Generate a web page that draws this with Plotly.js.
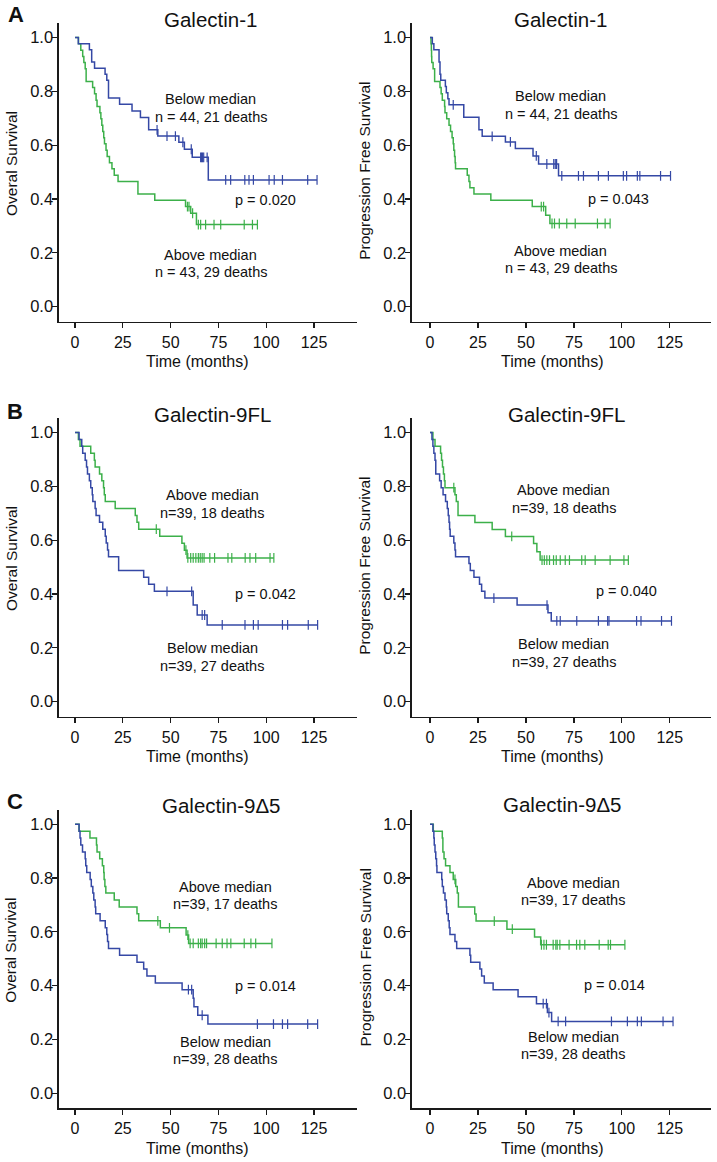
<!DOCTYPE html>
<html><head><meta charset="utf-8">
<script src="https://cdn.plot.ly/plotly-3.0.1.min.js"></script>
<style>html,body{margin:0;padding:0;background:#fff}#chart{width:717px;height:1162px}</style>
</head><body><div id="chart"></div>
<script>
// ---------- DATA (time in months, survival fraction) ----------
// Panel A: Galectin-1, Overall survival
const aOsBlueT = [1.7, 7.5, 8.7, 10.2, 15.7, 16.6, 17.5, 23.3, 29.8, 34.2, 38.5, 43.3, 54.3, 57.2, 61.3, 69.7];
const aOsBlueS = [0.977, 0.955, 0.909, 0.886, 0.864, 0.841, 0.775, 0.752, 0.727, 0.703, 0.657, 0.634, 0.611, 0.585, 0.555, 0.471];
const aOsBlueC = [42.9, 48.1, 52.5, 56.4, 60.8, 65.7, 66.2, 66.7, 67.3, 69.1, 78.8, 81.4, 88.8, 91.0, 93.3, 101.5, 104.2, 108.5, 121.7, 126.6];
const aOsGreenT = [1.8, 3.0, 4.0, 4.6, 5.3, 5.8, 9.2, 10.2, 11.0, 11.5, 13.0, 13.5, 14.0, 14.5, 15.0, 15.4, 16.2, 16.8, 18.0, 19.3, 20.5, 22.5, 32.9, 41.7, 57.8, 60.5, 63.5];
const aOsGreenS = [0.977, 0.953, 0.930, 0.907, 0.884, 0.837, 0.814, 0.791, 0.767, 0.744, 0.721, 0.698, 0.674, 0.651, 0.628, 0.605, 0.581, 0.558, 0.535, 0.512, 0.488, 0.465, 0.419, 0.395, 0.372, 0.347, 0.305];
const aOsGreenC = [58.8, 59.6, 61.5, 64.5, 65.7, 68.3, 72.7, 76.2, 88.5, 92.8, 95.4];
// Panel A: Galectin-1, Progression free survival
const aPfsBlueT = [1.2, 2.0, 4.7, 5.2, 5.6, 8.0, 8.5, 9.3, 9.9, 17.6, 25.5, 27.2, 39.3, 44.5, 53.7, 56.6, 67.0];
const aPfsBlueS = [0.977, 0.955, 0.909, 0.864, 0.841, 0.818, 0.795, 0.773, 0.750, 0.704, 0.657, 0.633, 0.612, 0.588, 0.560, 0.530, 0.486];
const aPfsBlueC = [12.1, 32.4, 41.9, 55.4, 60.9, 64.5, 65.3, 66.0, 68.7, 77.4, 80.0, 87.8, 93.0, 100.8, 102.5, 108.1, 109.4, 120.2, 125.4];
const aPfsGreenT = [0.5, 0.7, 0.8, 0.9, 1.6, 2.4, 5.2, 5.8, 6.4, 7.6, 7.8, 8.7, 9.9, 10.7, 11.5, 12.1, 12.4, 12.8, 13.1, 13.3, 19.4, 20.3, 20.8, 22.9, 31.7, 53.3, 60.3, 62.5];
const aPfsGreenS = [0.977, 0.953, 0.930, 0.907, 0.884, 0.837, 0.814, 0.791, 0.767, 0.744, 0.721, 0.698, 0.674, 0.651, 0.628, 0.605, 0.581, 0.558, 0.535, 0.512, 0.488, 0.465, 0.442, 0.419, 0.395, 0.372, 0.340, 0.309];
const aPfsGreenC = [58.0, 59.2, 63.6, 64.9, 67.4, 71.3, 75.7, 87.3, 91.3, 93.9];
// Panel B: Galectin-9FL, Overall survival
const bOsGreenT = [1.75, 2.6, 8.2, 10.1, 10.5, 12.8, 14.0, 14.9, 15.3, 15.8, 21.0, 31.5, 32.4, 33.3, 44.3, 55.9, 57.2, 58.6];
const bOsGreenS = [0.974, 0.949, 0.923, 0.897, 0.872, 0.846, 0.821, 0.795, 0.769, 0.744, 0.718, 0.692, 0.667, 0.641, 0.615, 0.589, 0.563, 0.534];
const bOsGreenC = [42.5, 58.0, 59.0, 60.5, 61.8, 63.2, 64.5, 65.5, 66.5, 67.5, 70.5, 73.0, 80.0, 82.0, 89.0, 91.5, 94.5, 102.0, 104.0];
const bOsBlueT = [2.1, 3.5, 4.0, 5.3, 6.0, 6.5, 7.5, 8.2, 9.0, 9.3, 10.5, 11.0, 12.8, 14.5, 15.8, 16.3, 17.0, 17.5, 22.8, 35.9, 38.5, 41.5, 61.8, 63.9, 69.1];
const bOsBlueS = [0.974, 0.949, 0.923, 0.897, 0.872, 0.846, 0.821, 0.795, 0.769, 0.744, 0.718, 0.692, 0.667, 0.641, 0.615, 0.590, 0.564, 0.538, 0.487, 0.462, 0.436, 0.410, 0.359, 0.322, 0.285];
const bOsBlueC = [48.1, 61.0, 66.5, 67.8, 77.0, 88.9, 93.3, 95.8, 108.5, 111.2, 122.0, 126.9];
// Panel B: Galectin-9FL, Progression free survival
const bPfsGreenT = [1.5, 2.6, 5.5, 6.0, 6.5, 7.0, 7.5, 7.8, 13.0, 13.7, 14.6, 23.4, 32.4, 39.3, 54.0, 55.7, 57.4];
const bPfsGreenS = [0.974, 0.949, 0.923, 0.897, 0.872, 0.846, 0.821, 0.795, 0.769, 0.744, 0.692, 0.666, 0.640, 0.614, 0.588, 0.557, 0.526];
const bPfsGreenC = [12.4, 42.6, 58.4, 59.6, 60.9, 62.3, 64.4, 65.8, 67.9, 70.5, 72.7, 79.1, 80.9, 86.1, 93.9, 101.1, 103.4];
const bPfsBlueT = [1.0, 1.5, 2.0, 2.6, 3.0, 5.0, 5.8, 6.8, 8.1, 9.0, 9.5, 9.9, 10.2, 10.5, 12.4, 13.0, 13.3, 20.3, 21.0, 22.9, 25.8, 26.9, 28.6, 45.4, 61.5, 63.2];
const bPfsBlueS = [0.974, 0.949, 0.923, 0.897, 0.846, 0.821, 0.795, 0.769, 0.744, 0.718, 0.692, 0.667, 0.641, 0.615, 0.590, 0.564, 0.538, 0.513, 0.487, 0.462, 0.436, 0.410, 0.385, 0.359, 0.330, 0.300];
const bPfsBlueC = [33.3, 61.0, 66.1, 67.9, 76.5, 87.8, 92.6, 93.3, 107.7, 110.0, 120.7, 125.9];
// Panel C: Galectin-9Δ5, Overall survival
const cOsGreenT = [2.1, 7.8, 11.2, 11.5, 12.9, 14.3, 15.0, 15.2, 15.6, 16.1, 20.5, 23.1, 32.4, 33.3, 44.6, 58.1, 59.4];
const cOsGreenS = [0.974, 0.949, 0.923, 0.897, 0.872, 0.846, 0.821, 0.795, 0.769, 0.744, 0.718, 0.692, 0.667, 0.641, 0.615, 0.588, 0.557];
const cOsGreenC = [43.3, 49.4, 59.0, 60.2, 61.8, 64.5, 65.7, 66.5, 67.8, 68.8, 73.8, 77.0, 79.5, 81.5, 88.5, 92.0, 94.5, 103.0];
const cOsBlueT = [2.1, 2.6, 3.0, 3.9, 5.3, 5.6, 6.1, 7.9, 8.5, 9.3, 9.8, 10.5, 10.8, 13.1, 15.8, 16.6, 17.0, 17.5, 23.3, 32.4, 35.9, 37.6, 42.0, 56.0, 61.8, 62.2, 64.2, 69.5];
const cOsBlueS = [0.974, 0.949, 0.923, 0.897, 0.872, 0.846, 0.821, 0.795, 0.769, 0.744, 0.718, 0.692, 0.667, 0.641, 0.615, 0.590, 0.564, 0.538, 0.513, 0.487, 0.462, 0.436, 0.410, 0.385, 0.353, 0.322, 0.290, 0.257];
const cOsBlueC = [59.3, 61.0, 66.5, 95.4, 103.8, 108.5, 111.2, 121.7, 126.9];
// Panel C: Galectin-9Δ5, Progression free survival
const cPfsGreenT = [1.7, 6.4, 6.7, 7.3, 8.1, 10.4, 12.1, 13.4, 14.2, 14.8, 23.3, 24.0, 40.1, 54.5, 57.7];
const cPfsGreenS = [0.974, 0.949, 0.897, 0.872, 0.846, 0.821, 0.795, 0.769, 0.744, 0.692, 0.666, 0.640, 0.610, 0.581, 0.552];
const cPfsGreenC = [13.0, 33.5, 42.9, 58.1, 59.4, 60.7, 64.2, 65.6, 66.3, 67.7, 72.5, 76.4, 78.1, 80.7, 88.2, 92.9, 94.1, 101.6];
const cPfsBlueT = [1.5, 2.0, 2.2, 2.6, 3.0, 3.4, 3.6, 6.1, 6.4, 7.0, 7.8, 8.5, 8.7, 9.5, 10.0, 10.4, 13.0, 13.9, 20.8, 21.2, 26.0, 26.9, 28.3, 32.9, 45.9, 55.5, 61.2, 63.4];
const cPfsBlueS = [0.974, 0.949, 0.923, 0.897, 0.872, 0.846, 0.821, 0.795, 0.769, 0.744, 0.718, 0.692, 0.667, 0.641, 0.615, 0.590, 0.564, 0.538, 0.513, 0.487, 0.462, 0.436, 0.410, 0.385, 0.359, 0.333, 0.300, 0.267];
const cPfsBlueC = [59.0, 60.7, 62.0, 66.8, 70.7, 94.6, 102.9, 108.1, 110.2, 121.5, 126.7];

const panelTitles = ['Galectin-1', 'Galectin-1', 'Galectin-9FL', 'Galectin-9FL', 'Galectin-9Δ5', 'Galectin-9Δ5'];
const yTitles = ['Overal Survival', 'Progression Free Survival'];
const xTitle = 'Time (months)';
const panelLetters = ['A', 'B', 'C'];
const topLabels = [['Below median', 'n = 44, 21 deaths'], ['Below median', 'n = 44, 21 deaths'],
                   ['Above median', 'n=39, 18 deaths'], ['Above median', 'n=39, 18 deaths'],
                   ['Above median', 'n=39, 17 deaths'], ['Above median', 'n=39, 17 deaths']];
const bottomLabels = [['Above median', 'n = 43, 29 deaths'], ['Above median', 'n = 43, 29 deaths'],
                      ['Below median', 'n=39, 27 deaths'], ['Below median', 'n=39, 27 deaths'],
                      ['Below median', 'n=39, 28 deaths'], ['Below median', 'n=39, 28 deaths']];
const pValues = ['p = 0.020', 'p = 0.043', 'p = 0.042', 'p = 0.040', 'p = 0.014', 'p = 0.014'];

// ---------- STYLE / LAYOUT ----------
const W = 717, H = 1162;
const BLUE = '#3548a5', GREEN = '#3cb04a';
const FONT = 'Liberation Sans, Arial, Helvetica, sans-serif';
const px2x = p => p / W, px2y = p => 1 - p / H;

const curves = [
  {blue: [aOsBlueT, aOsBlueS, aOsBlueC], green: [aOsGreenT, aOsGreenS, aOsGreenC]},
  {blue: [aPfsBlueT, aPfsBlueS, aPfsBlueC], green: [aPfsGreenT, aPfsGreenS, aPfsGreenC]},
  {blue: [bOsBlueT, bOsBlueS, bOsBlueC], green: [bOsGreenT, bOsGreenS, bOsGreenC]},
  {blue: [bPfsBlueT, bPfsBlueS, bPfsBlueC], green: [bPfsGreenT, bPfsGreenS, bPfsGreenC]},
  {blue: [cOsBlueT, cOsBlueS, cOsBlueC], green: [cOsGreenT, cOsGreenS, cOsGreenC]},
  {blue: [cPfsBlueT, cPfsBlueS, cPfsBlueC], green: [cPfsGreenT, cPfsGreenS, cPfsGreenC]}
];

// pixel geometry of each row (axis top, axis bottom) and column (axis left, right)
const rows = [[23.3, 321.7], [418.3, 716.7], [810, 1108.3]];
const cols = [[59, 357], [412, 711]];
const xRanges = [[-8.4, 147.5], [-9.4, 146.5]];
const yRange = [-0.056, 1.053];

// text positions (pixels)
const titlePos = [[210, 19], [560.5, 19], [212.5, 414], [566.7, 414], [222, 805.5], [562, 804]];
const letterPos = [[16, 14.5], [15, 411.5], [15, 801.5]];
const topLabelPos = [[70.9, 0.771, 0.704], [68.2, 0.781, 0.715], [71.8, 0.767, 0.702], [69.8, 0.786, 0.720], [78.6, 0.766, 0.703], [74.7, 0.783, 0.720]];
const bottomLabelPos = [[70.9, 0.192, 0.130], [68.2, 0.208, 0.145], [71.8, 0.198, 0.133], [69.8, 0.213, 0.146], [78.6, 0.192, 0.128], [74.7, 0.209, 0.145]];
const pPos = [[99.8, 0.397], [98.2, 0.399], [99.8, 0.400], [102.2, 0.411], [99.6, 0.399], [96.3, 0.401]];

function survAt(t, s, time) {
  let v = 1;
  for (let i = 0; i < t.length; i++) if (t[i] <= time) v = s[i];
  return v;
}

const traces = [];
const layout = {
  width: W, height: H, margin: {l: 0, r: 0, t: 0, b: 0},
  paper_bgcolor: '#fff', plot_bgcolor: '#fff', showlegend: false,
  font: {family: FONT, color: '#111'},
  annotations: []
};

for (let p = 0; p < 6; p++) {
  const r = Math.floor(p / 2), c = p % 2;
  const xa = 'x' + (p === 0 ? '' : p + 1), ya = 'y' + (p === 0 ? '' : p + 1);
  const xKey = 'xaxis' + (p === 0 ? '' : p + 1), yKey = 'yaxis' + (p === 0 ? '' : p + 1);
  layout[xKey] = {
    domain: [px2x(cols[c][0]), px2x(cols[c][1])], anchor: ya, range: xRanges[c],
    showline: true, linecolor: '#1a1a1a', linewidth: 1.6, ticks: 'outside', ticklen: 5, tickwidth: 1.3,
    tickcolor: '#1a1a1a', tick0: 0, dtick: 25, showgrid: false, zeroline: false,
    tickfont: {size: 16, family: FONT, color: '#111'}, fixedrange: true
  };
  layout[yKey] = {
    domain: [px2y(rows[r][1]), px2y(rows[r][0])], anchor: xa, range: yRange,
    showline: true, linecolor: '#1a1a1a', linewidth: 1.6, ticks: 'outside', ticklen: 5, tickwidth: 1.3,
    tickcolor: '#1a1a1a', tick0: 0, dtick: 0.2, tickformat: '.1f', showgrid: false, zeroline: false,
    ticklabelstandoff: -4,
    tickfont: {size: 16.5, family: FONT, color: '#111'}, fixedrange: true
  };
  [['green', GREEN], ['blue', BLUE]].forEach(([k, col]) => {
    const [t, s, cens] = curves[p][k];
    const end = Math.max(t[t.length - 1], ...cens);
    traces.push({
      type: 'scatter', mode: 'lines', xaxis: xa, yaxis: ya,
      x: [0, ...t, end], y: [1, ...s, s[s.length - 1]],
      line: {color: col, width: 1.5, shape: 'hv'}, hoverinfo: 'skip'
    });
    traces.push({
      type: 'scatter', mode: 'markers', xaxis: xa, yaxis: ya,
      x: cens, y: cens.map(v => survAt(t, s, v)),
      marker: {symbol: 'line-ns', size: 7, color: col, line: {color: col, width: 1.2}}, hoverinfo: 'skip'
    });
  });
  const A = layout.annotations;
  A.push({text: panelTitles[p], xref: 'paper', yref: 'paper', x: px2x(titlePos[p][0]), y: px2y(titlePos[p][1]),
          xanchor: 'center', yanchor: 'middle', showarrow: false, font: {size: 20.5, family: FONT, color: '#111'}});
  const lab = {xref: xa, yref: ya, xanchor: 'center', yanchor: 'middle', showarrow: false, font: {size: 14.5, family: FONT, color: '#111'}};
  A.push(Object.assign({}, lab, {text: topLabels[p][0], x: topLabelPos[p][0], y: topLabelPos[p][1]}));
  A.push(Object.assign({}, lab, {text: topLabels[p][1], x: topLabelPos[p][0], y: topLabelPos[p][2]}));
  A.push(Object.assign({}, lab, {text: bottomLabels[p][0], x: bottomLabelPos[p][0], y: bottomLabelPos[p][1]}));
  A.push(Object.assign({}, lab, {text: bottomLabels[p][1], x: bottomLabelPos[p][0], y: bottomLabelPos[p][2]}));
  A.push(Object.assign({}, lab, {text: pValues[p], x: pPos[p][0], y: pPos[p][1]}));
  A.push({text: xTitle, xref: xa, yref: 'paper', x: 64, y: px2y(rows[r][1] + 40), xanchor: 'center', yanchor: 'middle',
          showarrow: false, font: {size: 16, family: FONT, color: '#111'}});
  A.push({text: yTitles[c], xref: 'paper', yref: ya, x: px2x(c === 0 ? 11 : 365), y: c === 0 ? 0.53 : 0.505, textangle: -90,
          xanchor: 'center', yanchor: 'middle', showarrow: false, font: {size: 15.5, family: FONT, color: '#111'}});
}
panelLetters.forEach((L, i) => layout.annotations.push({
  text: '<b>' + L + '</b>', xref: 'paper', yref: 'paper', x: px2x(letterPos[i][0]), y: px2y(letterPos[i][1]),
  xanchor: 'center', yanchor: 'middle', showarrow: false, font: {size: 22, family: FONT, color: '#111'}
}));

Plotly.newPlot('chart', traces, layout, {displayModeBar: false, staticPlot: true});
</script></body></html>
